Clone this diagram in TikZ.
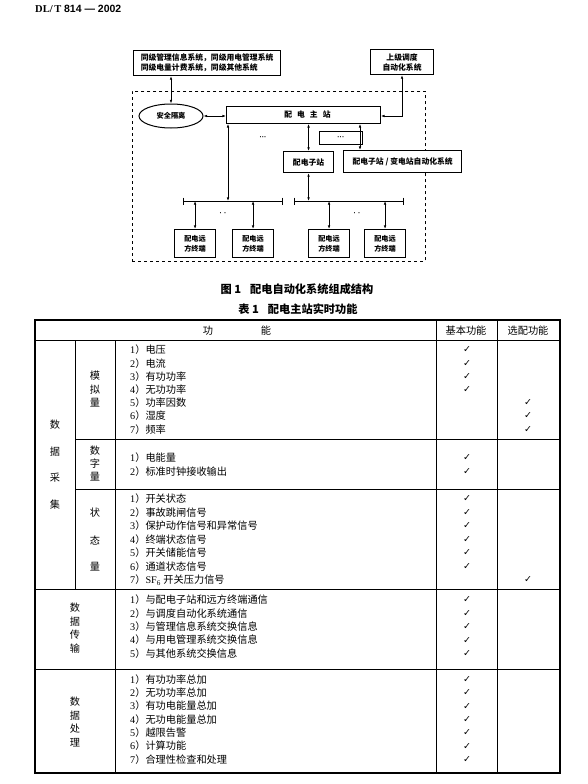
\documentclass[tikz,border=0pt]{standalone}
\usepackage{fontspec}
\setmainfont{Liberation Serif}
\setsansfont{Liberation Sans}
\newfontfamily\cjk{Noto Sans CJK SC}
\newfontfamily\sym{DejaVu Sans}
\usetikzlibrary{arrows.meta,shapes.geometric}
\newcommand\itm[2]{#1{\cjk ）#2}}
\begin{document}
\begin{tikzpicture}[x=1pt,y=-1pt,
  dbl/.style={{Latex[length=3.6pt,width=2.6pt]}-{Latex[length=3.6pt,width=2.6pt]}, line width=0.7pt},
  bx/.style={draw, line width=1.1pt, fill=white, inner sep=0pt, align=center, font=\cjk\bfseries\fontsize{7.8}{10}\selectfont},
  tm/.style={bx, font=\cjk\bfseries\fontsize{7.2}{10}\selectfont, anchor=north west, minimum width=41pt, minimum height=28pt},
  tb/.style={inner sep=0pt, anchor=west, font=\fontsize{10.2}{12}\selectfont},
  lbl/.style={inner sep=0pt, font=\cjk\fontsize{10.2}{12}\selectfont},
  ck/.style={inner sep=0pt, font=\sym\fontsize{9.5}{11}\selectfont},
  captxt/.style={inner sep=0pt, font=\cjk\bfseries\fontsize{11.2}{13}\selectfont},
  lnthin/.style={line width=0.7pt},
  lnthick/.style={line width=1.1pt}]
\useasboundingbox (0,0) rectangle (587,784);
\fill[white] (0,0) rectangle (587,784);

% header
\node[inner sep=0pt, anchor=west, font=\bfseries\fontsize{10.5}{12}\selectfont] (hdr) at (35,9) {DL/\,T {\sffamily 814 — 2002}};

% ---------- figure ----------
\node[draw, dashed, line width=0.8pt, anchor=north west, minimum width=293pt, minimum height=170pt, inner sep=0pt] (frame) at (132,91) {};

\node[bx, align=left, anchor=north west, minimum width=147pt, minimum height=25pt] (sys) at (133,50) {同级管理信息系统，同级用电管理系统\\同级电量计费系统，同级其他系统};
\node[bx, anchor=north west, minimum width=63pt, minimum height=25pt] (up) at (370,49) {上级调度\\自动化系统};
\node[ellipse, draw, line width=1pt, fill=white, minimum width=64pt, minimum height=24pt, inner sep=0pt, font=\cjk\bfseries\fontsize{7.2}{9}\selectfont] (ell) at (171,116) {安全隔离};
\node[bx, line width=0.9pt, anchor=north west, minimum width=154pt, minimum height=17pt] (main) at (226,106) {\hspace{8pt}配\hspace{5pt}电\hspace{5pt}主\hspace{5pt}站};
\node[draw, line width=0.8pt, fill=white, anchor=north west, minimum width=43pt, minimum height=13pt, inner sep=0pt, font=\sffamily\bfseries\fontsize{7}{8}\selectfont] (dbox) at (319,131) {···\hspace{8pt}};
\node[bx, anchor=north west, minimum width=50pt, minimum height=21pt] (sub) at (283,151) {配电子站};
\node[bx, anchor=north west, minimum height=22pt, inner xsep=9pt] (rbox) at (343,150) {配电子站 / 变电站自动化系统};
\node[tm] (t1) at (174,229) {配电远\\方终端};
\node[tm] (t2) at (232,229) {配电远\\方终端};
\node[tm] (t3) at (308,229) {配电远\\方终端};
\node[tm] (t4) at (364,229) {配电远\\方终端};

\node[inner sep=0pt, font=\sffamily\bfseries\fontsize{7}{8}\selectfont] (dots1) at (263,138) {···};
\node[inner sep=0pt, font=\sffamily\bfseries\fontsize{7}{8}\selectfont] (dots2) at (223,214) {·\,\,·};
\node[inner sep=0pt, font=\sffamily\bfseries\fontsize{7}{8}\selectfont] (dots3) at (357,214) {·\,\,·};

% buses
\coordinate (bL1) at (183,201); \coordinate (bL2) at (282,201);
\coordinate (bR1) at (294,201); \coordinate (bR2) at (403,201);
\draw[lnthin] (bL1) -- (bL2);
\draw[lnthin] (bR1) -- (bR2);
\foreach \c in {bL1,bL2,bR1,bR2} \draw[lnthin] (\c) ++(0,-3.5) -- ++(0,7);

% connectors
\draw[dbl] (ell.north |- sys.south) -- (ell.north);
\draw[dbl] (ell.east) -- (ell.east -| main.west);
\coordinate (c1) at (402,116);
\draw[dbl] (up.south -| c1) -- (c1) -- (c1 -| main.east);
\coordinate (v1) at (228,201);
\draw[dbl] (v1 |- main.south) -- (v1);
\draw[dbl] (sub.north |- main.south) -- (sub.north);
\draw[dbl] (sub.south) -- (sub.south |- bR1);
\coordinate (c2) at (360,150);
\draw[dbl] (c2 |- main.south) -- (c2 |- rbox.north);
\foreach \t in {t1,t2,t3,t4} \draw[dbl] (\t.north |- bL1) -- (\t.north);

\node[captxt] (fig) at (297,289) {图 1\hspace{9pt}配电自动化系统组成结构};

% ---------- table ----------
\node[captxt] (tab) at (298,309) {表 1\hspace{9pt}配电主站实时功能};

\draw[lnthick] (35,320) rectangle (560,773);
\draw[lnthin] (35,340) -- (560,340);
\draw[lnthin] (35,589) -- (560,589);
\draw[lnthin] (35,669) -- (560,669);
\draw[lnthin] (75,439) -- (560,439);
\draw[lnthin] (75,489) -- (560,489);
\draw[lnthin] (436,320) -- (436,773);
\draw[lnthin] (497,320) -- (497,773);
\draw[lnthin] (115,340) -- (115,773);
\draw[lnthin] (75,340) -- (75,589);

\node[lbl] (hg) at (208,331) {功};
\node[lbl] (hn) at (266,331) {能};
\node[lbl] (hb) at (466,331) {基本功能};
\node[lbl] (ho) at (528,331) {选配功能};

% 数据采集
\foreach \ch/\y [count=\i] in {数/425,据/452,采/478,集/505} \node[lbl] (sj\i) at (55,\y) {\ch};
\foreach \ch/\y [count=\i] in {模/376,拟/389.5,量/403} \node[lbl] (mn\i) at (95,\y) {\ch};
\foreach \ch/\y [count=\i] in {数/451,字/464,量/477} \node[lbl] (sz\i) at (95,\y) {\ch};
\foreach \ch/\y [count=\i] in {状/513,态/540,量/566.5} \node[lbl] (zt\i) at (95,\y) {\ch};
\foreach \ch/\y [count=\i] in {数/608,据/621.5,传/635,输/648.5} \node[lbl] (cs\i) at (75,\y) {\ch};
\foreach \ch/\y [count=\i] in {数/702,据/715.5,处/729,理/742.5} \node[lbl] (cl\i) at (75,\y) {\ch};

% analog
\foreach \t/\y [count=\i] in {电压/350,电流/363.2,有功功率/376.4,无功功率/389.6,功率因数/402.8,湿度/416,频率/429.2}
  \node[tb] (a\i) at (130,\y) {\itm{\i}{\t}};
\foreach \y [count=\i] in {350,363.2,376.4,389.6} \node[ck] (ak\i) at (467,\y) {✓};
\foreach \y [count=\i] in {402.8,416,429.2} \node[ck] (ao\i) at (528,\y) {✓};

% digital
\node[tb] (d1) at (130,458) {\itm{1}{电能量}};
\node[tb] (d2) at (130,472) {\itm{2}{标准时钟接收输出}};
\node[ck] (dk1) at (467,458) {✓};
\node[ck] (dk2) at (467,472) {✓};

% status
\foreach \t/\y [count=\i] in {开关状态/499,事故跳闸信号/512.5,保护动作信号和异常信号/526,终端状态信号/539.5,开关储能信号/553,通道状态信号/566.5}
  {\node[tb] (s\i) at (130,\y) {\itm{\i}{\t}};
   \node[ck] (sk\i) at (467,\y) {✓};}
\node[tb] (s7) at (130,580) {7{\cjk ）}SF\textsubscript{6} {\cjk 开关压力信号}};
\node[ck] (so7) at (528,580) {✓};

% transmission
\foreach \t/\y [count=\i] in {与配电子站和远方终端通信/600,与调度自动化系统通信/613.3,与管理信息系统交换信息/626.6,与用电管理系统交换信息/640,与其他系统交换信息/653.3}
  {\node[tb] (tr\i) at (130,\y) {\itm{\i}{\t}};
   \node[ck] (tk\i) at (467,\y) {✓};}

% processing
\foreach \t/\y [count=\i] in {有功功率总加/679.5,无功功率总加/692.8,有功电能量总加/706.1,无功电能量总加/719.4,越限告警/732.7,计算功能/746,合理性检查和处理/759.3}
  {\node[tb] (p\i) at (130,\y) {\itm{\i}{\t}};
   \node[ck] (pk\i) at (467,\y) {✓};}
\end{tikzpicture}
\end{document}
